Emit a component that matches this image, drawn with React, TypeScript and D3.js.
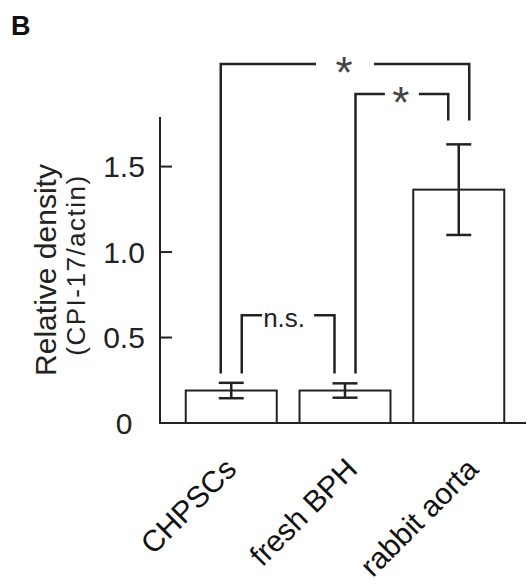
import React from "react";
import * as d3 from "d3";

// values
const categories = ["CHPSCs", "fresh BPH", "rabbit aorta"];
const means = [0.19, 0.19, 1.365];
const errors = [0.045, 0.042, 0.265];
const yTicks = [0, 0.5, 1.0, 1.5];
const tickLabels = ["0", "0.5", "1.0", "1.5"];

// significance brackets: bar index pairs, bracket height (data units), text
const bracketFrom = [0, 1, 0];
const bracketTo = [2, 2, 1];
const bracketLevel = [2.1, 1.925, 0.63];
const bracketText = ["*", "*", "n.s."];
// where bracket legs stop above each bar
const legBottom = [0.29, 0.29, 1.77];

const W = 527;
const H = 584;
const FONT = '"Liberation Sans", Arial, Helvetica, sans-serif';
const INK = "#222";

export default function App() {
  const x = d3.scaleBand<string>().domain(categories).range([163, 527]).padding(0.2);
  const y = d3.scaleLinear().domain([0, 1.79]).range([423, 117]);
  const xLabel = d3.scalePoint<string>().domain(categories).range([238, 480]);
  const cx = (i: number) => (x(categories[i]) as number) + x.bandwidth() / 2;
  const axisX = 160;
  const capHalf = 12.5;
  const legOff = 10.5;
  // which side of the bar each leg sits on (from, to)
  const legSide = [[-1, 1], [1, -1], [1, -1]];
  const gapHalf = [29, 17, 26];

  return (
    <svg
      width={W}
      height={H}
      style={{ position: "absolute", left: 0, top: 0, background: "#fff" }}
      fontFamily={FONT}
    >
      <text x={11} y={35} fontSize={27} fontWeight="bold" fill="#111">B</text>

      {/* y axis title */}
      <text
        transform={`translate(56,270) rotate(-90)`}
        textAnchor="middle"
        fontSize={30}
        fill={INK}
      >
        Relative density
      </text>
      <text
        transform={`translate(85,265) rotate(-90)`}
        textAnchor="middle"
        fontSize={26}
        letterSpacing={1.5}
        fill={INK}
      >
        (CPI-17/actin)
      </text>

      {/* axes */}
      <line x1={axisX} x2={axisX} y1={y(0)} y2={y(1.79)} stroke={INK} strokeWidth={2} />
      <line x1={axisX - 1} x2={526} y1={y(0)} y2={y(0)} stroke={INK} strokeWidth={2} />
      {yTicks.map((t, i) => (
        <g key={t}>
          {t > 0 && (
            <line x1={axisX} x2={axisX + 12} y1={y(t)} y2={y(t)} stroke={INK} strokeWidth={2} />
          )}
          <text x={124} y={y(t)} dy="0.36em" textAnchor="middle" fontSize={30} fill={INK}>
            {tickLabels[i]}
          </text>
        </g>
      ))}

      {/* bars */}
      {categories.map((c, i) => (
        <rect
          key={c}
          x={x(c)}
          y={y(means[i])}
          width={x.bandwidth()}
          height={y(0) - y(means[i])}
          fill="#fff"
          stroke={INK}
          strokeWidth={2}
        />
      ))}

      {/* error bars */}
      {categories.map((c, i) => {
        const hi = y(means[i] + errors[i]);
        const lo = y(means[i] - errors[i]);
        return (
          <g key={c} stroke={INK} strokeWidth={2.5}>
            <line x1={cx(i)} x2={cx(i)} y1={hi} y2={lo} />
            <line x1={cx(i) - capHalf} x2={cx(i) + capHalf} y1={hi} y2={hi} />
            <line x1={cx(i) - capHalf} x2={cx(i) + capHalf} y1={lo} y2={lo} />
          </g>
        );
      })}

      {/* significance brackets */}
      {bracketFrom.map((f, k) => {
        const t = bracketTo[k];
        const x1 = cx(f) + legSide[k][0] * legOff;
        const x2 = cx(t) + legSide[k][1] * legOff;
        const yy = y(bracketLevel[k]);
        const mid = (x1 + x2) / 2;
        const g = gapHalf[k];
        const path = d3.path();
        path.moveTo(x1, y(legBottom[f]));
        path.lineTo(x1, yy);
        path.lineTo(mid - g, yy);
        path.moveTo(mid + g, yy);
        path.lineTo(x2, yy);
        path.lineTo(x2, y(legBottom[t]));
        const isStar = bracketText[k] === "*";
        return (
          <g key={k}>
            <path d={path.toString()} fill="none" stroke={INK} strokeWidth={2.5} />
            <text
              x={isStar ? mid - 1 : mid - 4}
              y={isStar ? yy + 24 : yy + 12}
              textAnchor="middle"
              fontSize={isStar ? 44 : 26}
              fill={isStar ? "#444" : INK}
            >
              {bracketText[k]}
            </text>
          </g>
        );
      })}

      {/* category labels */}
      {categories.map((c) => (
        <text
          key={c}
          transform={`translate(${xLabel(c)},471) rotate(-45)`}
          textAnchor="end"
          fontSize={30}
          fill="#111"
        >
          {c}
        </text>
      ))}
    </svg>
  );
}
